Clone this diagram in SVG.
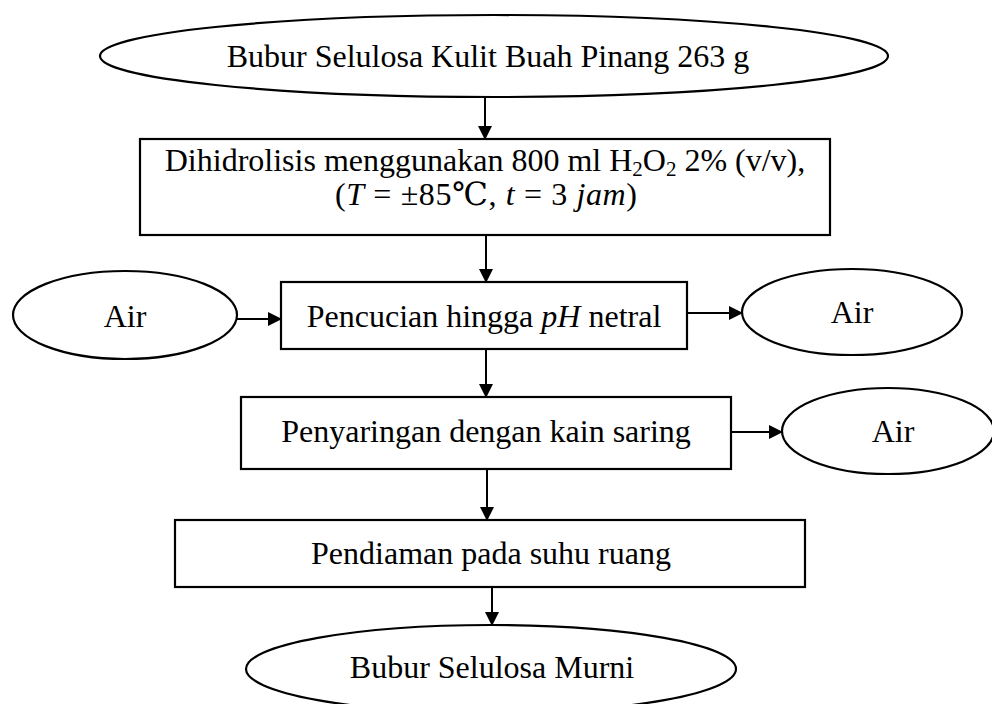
<svg xmlns="http://www.w3.org/2000/svg" width="992" height="704" viewBox="0 0 992 704">
<style>
.shape{fill:#fff;stroke:#000;stroke-width:2.2}
.t{font-family:"Liberation Serif","Times New Roman",serif;font-size:32px;fill:#000;text-anchor:middle}
.m{font-family:"Liberation Serif","DejaVu Serif",serif}
.i{font-style:italic}
.c{stroke:#000;stroke-width:2;fill:none;marker-end:url(#ah)}
</style>
<defs>
<marker id="ah" markerUnits="userSpaceOnUse" markerWidth="14" markerHeight="14" refX="13" refY="7" orient="auto">
<path d="M0,0 L14,7 L0,14 Z" fill="#000"/>
</marker>
</defs>
<rect width="992" height="704" fill="#fff"/>
<g id="connectors">
<line class="c" x1="485" y1="98" x2="485" y2="139"/>
<line class="c" x1="486" y1="235" x2="486" y2="282"/>
<line class="c" x1="237" y1="319" x2="281" y2="319"/>
<line class="c" x1="687" y1="313" x2="742" y2="313"/>
<line class="c" x1="486" y1="349" x2="486" y2="397"/>
<line class="c" x1="731" y1="432" x2="782" y2="432"/>
<line class="c" x1="487" y1="469" x2="487" y2="520"/>
<line class="c" x1="492" y1="587" x2="492" y2="625"/>
</g>
<g id="start">
<ellipse class="shape" cx="494" cy="56" rx="394" ry="41"/>
<text class="t" x="488" y="67">Bubur Selulosa Kulit Buah Pinang 263 g</text>
</g>
<g id="hidrolisis">
<rect class="shape" x="140" y="139" width="690" height="96"/>
<text class="t" x="485" y="171">Dihidrolisis menggunakan 800 ml H<tspan font-size="21" dy="5">2</tspan><tspan dy="-5">O</tspan><tspan font-size="21" dy="5">2</tspan><tspan dy="-5"> 2% (v/v),</tspan></text>
<text class="t m" x="486" y="205" textLength="302" lengthAdjust="spacing">(<tspan class="i">T</tspan> = ±85℃, <tspan class="i">t</tspan> = 3 <tspan class="i">jam</tspan>)</text>
</g>
<g id="pencucian">
<rect class="shape" x="281" y="282" width="406" height="67"/>
<text class="t" x="484" y="327">Pencucian hingga <tspan class="i">pH</tspan> netral</text>
</g>
<g id="air-in">
<ellipse class="shape" cx="125" cy="315" rx="112" ry="44"/>
<text class="t" x="125" y="327">Air</text>
</g>
<g id="air-out1">
<ellipse class="shape" cx="852" cy="312" rx="110" ry="43"/>
<text class="t" x="852" y="323">Air</text>
</g>
<g id="penyaringan">
<rect class="shape" x="241" y="397" width="490" height="72"/>
<text class="t" x="486" y="442">Penyaringan dengan kain saring</text>
</g>
<g id="air-out2">
<ellipse class="shape" cx="888" cy="431" rx="106" ry="43"/>
<text class="t" x="893" y="442">Air</text>
</g>
<g id="pendiaman">
<rect class="shape" x="175" y="520" width="630" height="67"/>
<text class="t" x="491" y="564">Pendiaman pada suhu ruang</text>
</g>
<g id="end">
<ellipse class="shape" cx="491" cy="669" rx="245" ry="44"/>
<text class="t" x="492" y="678">Bubur Selulosa Murni</text>
</g>
</svg>
